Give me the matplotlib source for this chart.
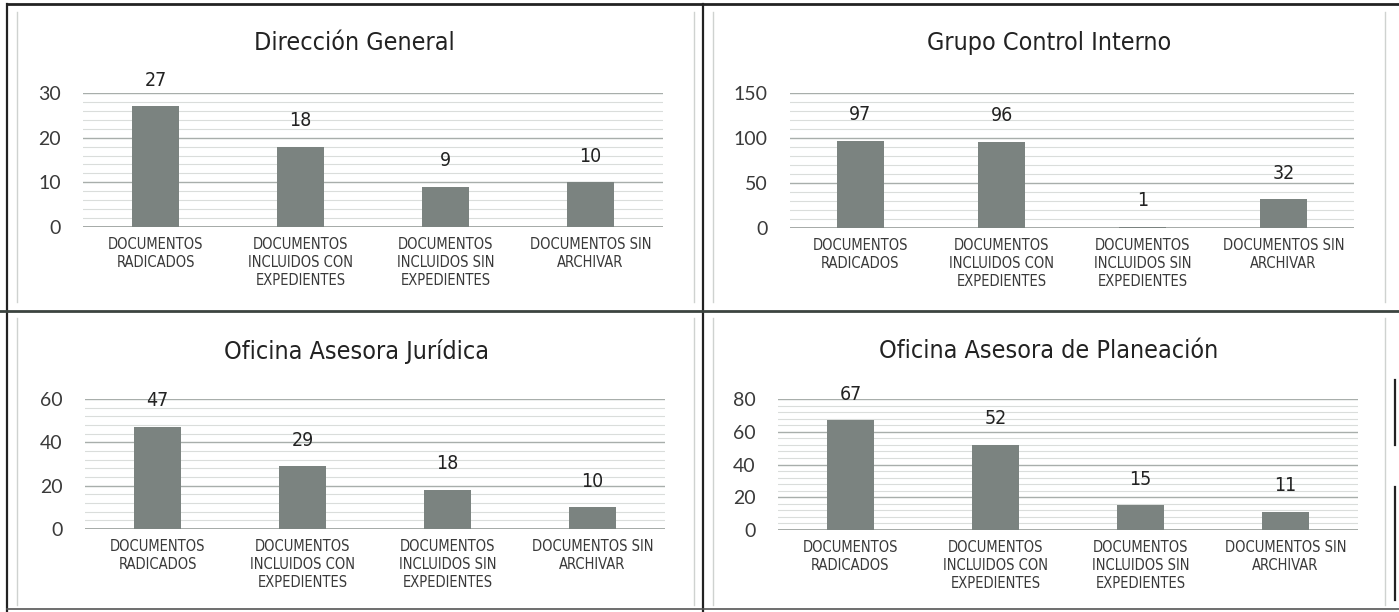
import numpy as np
import matplotlib.pyplot as plt
from matplotlib.ticker import MultipleLocator, AutoMinorLocator
from matplotlib.lines import Line2D

W, H = 1399, 612
NARROW = ['DejaVu Sans']

categorias = ['DOCUMENTOS\nRADICADOS',
              'DOCUMENTOS\nINCLUIDOS CON\nEXPEDIENTES',
              'DOCUMENTOS\nINCLUIDOS SIN\nEXPEDIENTES',
              'DOCUMENTOS SIN\nARCHIVAR']

titulos = ['Dirección General', 'Grupo Control Interno',
           'Oficina Asesora Jurídica', 'Oficina Asesora de Planeación']

direccion = [27, 18, 9, 10]
control = [97, 96, 1, 32]
juridica = [47, 29, 18, 10]
planeacion = [67, 52, 15, 11]

ymax = [30, 150, 60, 80]
ypaso = [10, 50, 20, 20]

# plot area in pixels: left, right, y of top value, y of zero
cajas = [(83, 663, 93, 227),
         (790, 1354, 93, 228),
         (85, 665, 399, 529),
         (778, 1358, 399, 530)]
# title centre in pixels
titulo_xy = [(354, 43), (1049, 43), (356, 351), (1049, 351)]

fig = plt.figure(figsize=(W / 100, H / 100), dpi=100)


def px(l, r, t, b):
    return [l / W, 1 - b / H, (r - l) / W, (b - t) / H]


series = [direccion, control, juridica, planeacion]
for k in range(4):
    l, r, t, b = cajas[k]
    ax = fig.add_axes(px(l, r, t, b))
    x = np.arange(4)
    ax.bar(x, series[k], width=0.33, color='#7b8380', zorder=3)
    ax.set_xlim(-0.5, 3.5)
    ax.set_ylim(0, ymax[k])
    ax.yaxis.set_major_locator(MultipleLocator(ypaso[k]))
    ax.yaxis.set_minor_locator(AutoMinorLocator(5))
    ax.grid(axis='y', which='major', color='#a8aeab', lw=1.0, zorder=0)
    ax.grid(axis='y', which='minor', color='#dadddb', lw=0.8, zorder=0)
    for s in ax.spines.values():
        s.set_visible(False)
    ax.axhline(0, color='#9a9f9c', lw=1.2, zorder=2)
    ax.tick_params(axis='both', which='both', length=0)
    ax.tick_params(axis='y', labelsize=14, labelcolor='#3a3a3a', pad=16)
    for lab in ax.get_yticklabels():
        lab.set_family(['Lato', 'DejaVu Sans'])
    ax.set_xticks(x)
    ax.set_xticklabels(categorias, fontsize=10.5, family=NARROW,
                       fontstretch='condensed', color='#3a3a3a',
                       linespacing=1.27)
    ax.tick_params(axis='x', pad=7)
    for i, v in enumerate(series[k]):
        ax.annotate(str(v), (i, v), xytext=(0, 12), textcoords='offset points',
                    ha='center', va='bottom', fontsize=14, family=NARROW,
                    fontstretch='condensed', color='#222222')
    tx, ty = titulo_xy[k]
    fig.text(tx / W, 1 - ty / H, titulos[k], ha='center', va='center',
             fontsize=18, family=NARROW, fontstretch='condensed',
             color='#222222')


def linea(x0, y0, x1, y1, c='#222222', lw=1.6):
    fig.add_artist(Line2D([x0 / W, x1 / W], [1 - y0 / H, 1 - y1 / H],
                          color=c, lw=lw))


# panel frames
linea(7, 4, 1399, 4, lw=2)
linea(7, 4, 7, 612)
linea(703, 4, 703, 612)
linea(0, 311, 1399, 311, c='#3c4440', lw=2)
linea(7, 609, 1399, 609, c='#555555', lw=1.2)
linea(1395, 380, 1395, 445)
linea(1395, 487, 1395, 600)
# inner chart borders
for (a, b2) in [(17, 694), (713, 1385)]:
    linea(a, 12, a, 302, c='#cfd2d0', lw=1)
    linea(b2, 12, b2, 302, c='#cfd2d0', lw=1)
    linea(a, 318, a, 605, c='#cfd2d0', lw=1)
    linea(b2, 318, b2, 605, c='#cfd2d0', lw=1)

fig.savefig('out.png', dpi=100)
